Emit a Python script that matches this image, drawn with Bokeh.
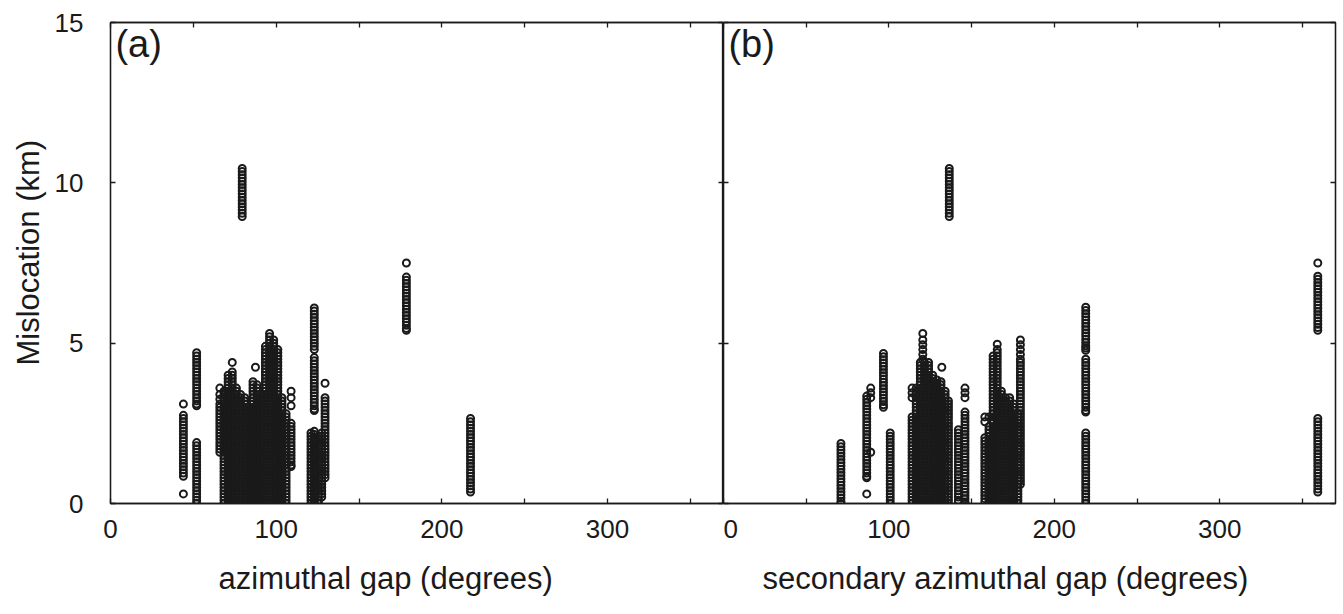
from bokeh.plotting import figure
from bokeh.models import Range1d, FixedTicker, LinearAxis, Label, Title, ColumnDataSource
from bokeh.layouts import row
from bokeh.embed import file_html
from bokeh.resources import INLINE

FONT = "Liberation Sans"
INK = "#1a1a1a"

# axis ticks
x_ticks = [0, 50, 100, 150, 200, 250, 300, 350]
x_tick_labels = {50: "", 150: "", 250: "", 350: ""}
y_ticks = [0, 5, 10, 15]

# (a) azimuthal gap (degrees) of each group of events, and their mislocations (km)
gap_a = [44, 52, 66, 68.5, 71, 73.5, 76, 78.5, 79.5, 81, 83.5, 86, 87.5, 88.5, 91, 93.5,
         96, 98.5, 101, 103.5, 106, 109, 121, 123, 125.5, 127.5, 129.5, 178.6, 217.3]
misloc_a = [
    [3.1, 2.75, 2.65, 2.55, 2.45, 2.35, 2.25, 2.15, 2.05, 1.95, 1.85, 1.75, 1.65, 1.55, 1.45,
     1.35, 1.25, 1.15, 1.05, 0.95, 0.85, 0.3],
    [4.7, 4.6, 4.5, 4.4, 4.3, 4.2, 4.1, 4.0, 3.9, 3.8, 3.7, 3.6, 3.5, 3.4, 3.3, 3.2, 3.1, 3.05,
     1.9, 1.8, 1.7, 1.6, 1.5, 1.4, 1.3, 1.2, 1.1, 1.0, 0.9, 0.8, 0.7, 0.6, 0.5, 0.4, 0.3, 0.2,
     0.1, 0.0],
    [3.6, 3.4, 3.25, 3.1, 3.0, 2.9, 2.8, 2.7, 2.6, 2.5, 2.4, 2.3, 2.2, 2.1, 2.0, 1.9, 1.8, 1.7,
     1.6],
    [3.5, 3.4, 3.3, 3.2, 3.1, 3.0, 2.9, 2.8, 2.7, 2.6, 2.5, 2.4, 2.3, 2.2, 2.1, 2.0, 1.9, 1.8,
     1.7, 1.6, 1.5, 1.4, 1.3, 1.2, 1.1, 1.0, 0.9, 0.8, 0.7, 0.6, 0.5, 0.4, 0.3, 0.2, 0.1, 0.0],
    [4.0, 3.9, 3.8, 3.7, 3.6, 3.5, 3.4, 3.3, 3.2, 3.1, 3.0, 2.9, 2.8, 2.7, 2.6, 2.5, 2.4, 2.3,
     2.2, 2.1, 2.0, 1.9, 1.8, 1.7, 1.6, 1.5, 1.4, 1.3, 1.2, 1.1, 1.0, 0.9, 0.8, 0.7, 0.6, 0.5,
     0.4, 0.3, 0.2, 0.1, 0.0],
    [4.4, 4.1, 4.0, 3.9, 3.8, 3.7, 3.6, 3.5, 3.4, 3.3, 3.2, 3.1, 3.0, 2.9, 2.8, 2.7, 2.6, 2.5,
     2.4, 2.3, 2.2, 2.1, 2.0, 1.9, 1.8, 1.7, 1.6, 1.5, 1.4, 1.3, 1.2, 1.1, 1.0, 0.9, 0.8, 0.7,
     0.6, 0.5, 0.4, 0.3, 0.2, 0.1, 0.0],
    [3.6, 3.5, 3.4, 3.3, 3.2, 3.1, 3.0, 2.9, 2.8, 2.7, 2.6, 2.5, 2.4, 2.3, 2.2, 2.1, 2.0, 1.9,
     1.8, 1.7, 1.6, 1.5, 1.4, 1.3, 1.2, 1.1, 1.0, 0.9, 0.8, 0.7, 0.6, 0.5, 0.4, 0.3, 0.2, 0.1,
     0.0],
    [3.4, 3.3, 3.2, 3.1, 3.0, 2.9, 2.8, 2.7, 2.6, 2.5, 2.4, 2.3, 2.2, 2.1, 2.0, 1.9, 1.8, 1.7,
     1.6, 1.5, 1.4, 1.3, 1.2, 1.1, 1.0, 0.9, 0.8, 0.7, 0.6, 0.5, 0.4, 0.3, 0.2, 0.1, 0.0],
    [10.45, 10.35, 10.25, 10.15, 10.05, 9.95, 9.85, 9.75, 9.65, 9.55, 9.45, 9.35, 9.25, 9.15,
     9.05, 8.95],
    [3.3, 3.2, 3.1, 3.0, 2.9, 2.8, 2.7, 2.6, 2.5, 2.4, 2.3, 2.2, 2.1, 2.0, 1.9, 1.8, 1.7, 1.6,
     1.5, 1.4, 1.3, 1.2, 1.1, 1.0, 0.9, 0.8, 0.7, 0.6, 0.5, 0.4, 0.3, 0.2, 0.1, 0.0],
    [3.0, 2.9, 2.8, 2.7, 2.6, 2.5, 2.4, 2.3, 2.2, 2.1, 2.0, 1.9, 1.8, 1.7, 1.6, 1.5, 1.4, 1.3,
     1.2, 1.1, 1.0, 0.9, 0.8, 0.7, 0.6, 0.5, 0.4, 0.3, 0.2, 0.1, 0.0],
    [3.8, 3.7, 3.6, 3.5, 3.4, 3.3, 3.2, 3.1, 3.0, 2.9, 2.8, 2.7, 2.6, 2.5, 2.4, 2.3, 2.2, 2.1,
     2.0, 1.9, 1.8, 1.7, 1.6, 1.5, 1.4, 1.3, 1.2, 1.1, 1.0, 0.9, 0.8, 0.7, 0.6, 0.5, 0.4, 0.3,
     0.2, 0.1, 0.0],
    [4.25],
    [3.7, 3.6, 3.5, 3.4, 3.3, 3.2, 3.1, 3.0, 2.9, 2.8, 2.7, 2.6, 2.5, 2.4, 2.3, 2.2, 2.1, 2.0,
     1.9, 1.8, 1.7, 1.6, 1.5, 1.4, 1.3, 1.2, 1.1, 1.0, 0.9, 0.8, 0.7, 0.6, 0.5, 0.4, 0.3, 0.2,
     0.1, 0.0],
    [3.4, 3.3, 3.2, 3.1, 3.0, 2.9, 2.8, 2.7, 2.6, 2.5, 2.4, 2.3, 2.2, 2.1, 2.0, 1.9, 1.8, 1.7,
     1.6, 1.5, 1.4, 1.3, 1.2, 1.1, 1.0, 0.9, 0.8, 0.7, 0.6, 0.5, 0.4, 0.3, 0.2, 0.1, 0.0],
    [4.9, 4.8, 4.7, 4.6, 4.5, 4.4, 4.3, 4.2, 4.1, 4.0, 3.9, 3.8, 3.7, 3.6, 3.5, 3.4, 3.3, 3.2,
     3.1, 3.0, 2.9, 2.8, 2.7, 2.6, 2.5, 2.4, 2.3, 2.2, 2.1, 2.0, 1.9, 1.8, 1.7, 1.6, 1.5, 1.4,
     1.3, 1.2, 1.1, 1.0, 0.9, 0.8, 0.7, 0.6, 0.5, 0.4, 0.3, 0.2, 0.1, 0.0],
    [5.3, 5.2, 5.1, 5.0, 4.9, 4.8, 4.7, 4.6, 4.5, 4.4, 4.3, 4.2, 4.1, 4.0, 3.9, 3.8, 3.7, 3.6,
     3.5, 3.4, 3.3, 3.2, 3.1, 3.0, 2.9, 2.8, 2.7, 2.6, 2.5, 2.4, 2.3, 2.2, 2.1, 2.0, 1.9, 1.8,
     1.7, 1.6, 1.5, 1.4, 1.3, 1.2, 1.1, 1.0, 0.9, 0.8, 0.7, 0.6, 0.5, 0.4, 0.3, 0.2, 0.1, 0.0],
    [5.1, 5.0, 4.9, 4.8, 4.7, 4.6, 4.5, 4.4, 4.3, 4.2, 4.1, 4.0, 3.9, 3.8, 3.7, 3.6, 3.5, 3.4,
     3.3, 3.2, 3.1, 3.0, 2.9, 2.8, 2.7, 2.6, 2.5, 2.4, 2.3, 2.2, 2.1, 2.0, 1.9, 1.8, 1.7, 1.6,
     1.5, 1.4, 1.3, 1.2, 1.1, 1.0, 0.9, 0.8, 0.7, 0.6, 0.5, 0.4, 0.3, 0.2, 0.1, 0.0],
    [4.8, 4.7, 4.6, 4.5, 4.4, 4.3, 4.2, 4.1, 4.0, 3.9, 3.8, 3.7, 3.6, 3.5, 3.4, 3.3, 3.2, 3.1,
     3.0, 2.9, 2.8, 2.7, 2.6, 2.5, 2.4, 2.3, 2.2, 2.1, 2.0, 1.9, 1.8, 1.7, 1.6, 1.5, 1.4, 1.3,
     1.2, 1.1, 1.0, 0.9, 0.8, 0.7, 0.6, 0.5, 0.4, 0.3, 0.2, 0.1, 0.0],
    [3.3, 3.2, 3.1, 3.0, 2.9, 2.8, 2.7, 2.6, 2.5, 2.4, 2.3, 2.2, 2.1, 2.0, 1.9, 1.8, 1.7, 1.6,
     1.5, 1.4, 1.3, 1.2, 1.1, 1.0, 0.9, 0.8, 0.7, 0.6, 0.5, 0.4, 0.3, 0.2, 0.1, 0.0],
    [2.8, 2.7, 2.6, 2.5, 2.4, 2.3, 2.2, 2.1, 2.0, 1.9, 1.8, 1.7, 1.6, 1.5, 1.4, 1.3, 1.2, 1.1,
     1.0, 0.9, 0.8, 0.7, 0.6, 0.5, 0.4, 0.3, 0.2, 0.1, 0.0],
    [3.5, 3.3, 3.05, 2.5, 2.4, 2.3, 2.2, 2.1, 2.0, 1.9, 1.8, 1.7, 1.6, 1.5, 1.4, 1.3, 1.2, 1.15],
    [2.2, 2.1, 2.0, 1.9, 1.8, 1.7, 1.6, 1.5, 1.4, 1.3, 1.2, 1.1, 1.0, 0.9, 0.8, 0.7, 0.6, 0.5,
     0.4, 0.3, 0.2, 0.1, 0.0],
    [6.1, 6.0, 5.9, 5.8, 5.7, 5.6, 5.5, 5.4, 5.3, 5.2, 5.1, 5.0, 4.9, 4.8,
     4.55, 4.45, 4.35, 4.25, 4.15, 4.05, 3.95, 3.85, 3.75, 3.65, 3.55, 3.45, 3.35, 3.25, 3.15,
     3.05, 2.95, 2.9,
     2.25, 2.15, 2.05, 1.95, 1.85, 1.75, 1.65, 1.55, 1.45, 1.35, 1.25, 1.15, 1.05, 0.95, 0.85,
     0.75, 0.65, 0.55, 0.45, 0.35, 0.25, 0.15, 0.05, 0.0],
    [2.1, 2.0, 1.9, 1.8, 1.7, 1.6, 1.5, 1.4, 1.3, 1.2, 1.1, 1.0, 0.9, 0.8, 0.7, 0.6, 0.5, 0.4,
     0.3, 0.2, 0.1, 0.0],
    [2.2, 2.1, 2.0, 1.9, 1.8, 1.7, 1.6, 1.5, 1.4, 1.3, 1.2, 1.1, 1.0, 0.9, 0.8, 0.7, 0.6, 0.5,
     0.4, 0.3, 0.2],
    [3.75, 3.3, 3.2, 3.1, 3.0, 2.9, 2.8, 2.7, 2.6, 2.5, 2.4, 2.3, 2.2, 2.1, 2.0, 1.9, 1.8, 1.7,
     1.6, 1.5, 1.4, 1.3, 1.2, 1.1, 1.0, 0.9, 0.8],
    [7.5, 7.06, 6.96, 6.86, 6.76, 6.66, 6.56, 6.46, 6.36, 6.26, 6.16, 6.06, 5.96, 5.86, 5.76,
     5.66, 5.56, 5.46, 5.4],
    [2.65, 2.55, 2.45, 2.35, 2.25, 2.15, 2.05, 1.95, 1.85, 1.75, 1.65, 1.55, 1.45, 1.35, 1.25,
     1.15, 1.05, 0.95, 0.85, 0.75, 0.65, 0.55, 0.45, 0.36],
]

# (b) secondary azimuthal gap (degrees) of each group of events, and their mislocations (km)
gap_b = [71, 86.6, 89, 96.7, 100.8, 114, 116.5, 119, 120.5, 121.5, 124, 126.5, 129, 131.5,
         132, 134, 136, 136.5, 142, 146, 158, 160.5, 163, 165.5, 168, 170.5, 173, 175.5, 178,
         179.5, 219, 359.3]
misloc_b = [
    [1.87, 1.77, 1.67, 1.57, 1.47, 1.37, 1.27, 1.17, 1.07, 0.97, 0.87, 0.77, 0.67, 0.57, 0.47,
     0.37, 0.27, 0.17, 0.07, 0.0],
    [3.35, 3.25, 3.15, 3.05, 2.95, 2.85, 2.75, 2.65, 2.55, 2.45, 2.35, 2.25, 2.15, 2.05, 1.95,
     1.85, 1.75, 1.65, 1.55, 1.45, 1.35, 1.25, 1.15, 1.05, 0.95, 0.85, 0.8, 0.3],
    [3.6, 3.45, 3.3, 1.6],
    [4.68, 4.58, 4.48, 4.38, 4.28, 4.18, 4.08, 3.98, 3.88, 3.78, 3.68, 3.58, 3.48, 3.38, 3.28,
     3.18, 3.08, 3.0],
    [2.2, 2.1, 2.0, 1.9, 1.8, 1.7, 1.6, 1.5, 1.4, 1.3, 1.2, 1.1, 1.0, 0.9, 0.8, 0.7, 0.6, 0.5,
     0.4, 0.3, 0.2, 0.1, 0.0],
    [3.6, 3.45, 3.3, 2.7, 2.6, 2.5, 2.4, 2.3, 2.2, 2.1, 2.0, 1.9, 1.8, 1.7, 1.6, 1.5, 1.4, 1.3,
     1.2, 1.1, 1.0, 0.9, 0.8, 0.7, 0.6, 0.5, 0.4, 0.3, 0.2, 0.1, 0.0],
    [3.6, 3.5, 3.4, 3.3, 3.2, 3.1, 3.0, 2.9, 2.8, 2.7, 2.6, 2.5, 2.4, 2.3, 2.2, 2.1, 2.0, 1.9,
     1.8, 1.7, 1.6, 1.5, 1.4, 1.3, 1.2, 1.1, 1.0, 0.9, 0.8, 0.7, 0.6, 0.5, 0.4, 0.3, 0.2, 0.1,
     0.0],
    [4.4, 4.3, 4.2, 4.1, 4.0, 3.9, 3.8, 3.7, 3.6, 3.5, 3.4, 3.3, 3.2, 3.1, 3.0, 2.9, 2.8, 2.7,
     2.6, 2.5, 2.4, 2.3, 2.2, 2.1, 2.0, 1.9, 1.8, 1.7, 1.6, 1.5, 1.4, 1.3, 1.2, 1.1, 1.0, 0.9,
     0.8, 0.7, 0.6, 0.5, 0.4, 0.3, 0.2, 0.1, 0.0],
    [5.3, 5.1, 4.95, 4.8, 4.65, 4.5],
    [4.4, 4.3, 4.2, 4.1, 4.0, 3.9, 3.8, 3.7, 3.6, 3.5, 3.4, 3.3, 3.2, 3.1, 3.0, 2.9, 2.8, 2.7,
     2.6, 2.5, 2.4, 2.3, 2.2, 2.1, 2.0, 1.9, 1.8, 1.7, 1.6, 1.5, 1.4, 1.3, 1.2, 1.1, 1.0, 0.9,
     0.8, 0.7, 0.6, 0.5, 0.4, 0.3, 0.2, 0.1, 0.0],
    [4.4, 4.3, 4.2, 4.1, 4.0, 3.9, 3.8, 3.7, 3.6, 3.5, 3.4, 3.3, 3.2, 3.1, 3.0, 2.9, 2.8, 2.7,
     2.6, 2.5, 2.4, 2.3, 2.2, 2.1, 2.0, 1.9, 1.8, 1.7, 1.6, 1.5, 1.4, 1.3, 1.2, 1.1, 1.0, 0.9,
     0.8, 0.7, 0.6, 0.5, 0.4, 0.3, 0.2, 0.1, 0.0],
    [4.0, 3.9, 3.8, 3.7, 3.6, 3.5, 3.4, 3.3, 3.2, 3.1, 3.0, 2.9, 2.8, 2.7, 2.6, 2.5, 2.4, 2.3,
     2.2, 2.1, 2.0, 1.9, 1.8, 1.7, 1.6, 1.5, 1.4, 1.3, 1.2, 1.1, 1.0, 0.9, 0.8, 0.7, 0.6, 0.5,
     0.4, 0.3, 0.2, 0.1, 0.0],
    [3.85, 3.75, 3.65, 3.55, 3.45, 3.35, 3.25, 3.15, 3.05, 2.95, 2.85, 2.75, 2.65, 2.55, 2.45,
     2.35, 2.25, 2.15, 2.05, 1.95, 1.85, 1.75, 1.65, 1.55, 1.45, 1.35, 1.25, 1.15, 1.05, 0.95,
     0.85, 0.75, 0.65, 0.55, 0.45, 0.35, 0.25, 0.15, 0.05, 0.0],
    [3.8, 3.7, 3.6, 3.5, 3.4, 3.3, 3.2, 3.1, 3.0, 2.9, 2.8, 2.7, 2.6, 2.5, 2.4, 2.3, 2.2, 2.1,
     2.0, 1.9, 1.8, 1.7, 1.6, 1.5, 1.4, 1.3, 1.2, 1.1, 1.0, 0.9, 0.8, 0.7, 0.6, 0.5, 0.4, 0.3,
     0.2, 0.1, 0.0],
    [4.25],
    [3.5, 3.4, 3.3, 3.2, 3.1, 3.0, 2.9, 2.8, 2.7, 2.6, 2.5, 2.4, 2.3, 2.2, 2.1, 2.0, 1.9, 1.8,
     1.7, 1.6, 1.5, 1.4, 1.3, 1.2, 1.1, 1.0, 0.9, 0.8, 0.7, 0.6, 0.5, 0.4, 0.3, 0.2, 0.1, 0.0],
    [3.2, 3.1, 3.0, 2.9, 2.8, 2.7, 2.6, 2.5, 2.4, 2.3, 2.2, 2.1, 2.0, 1.9, 1.8, 1.7, 1.6, 1.5,
     1.4, 1.3, 1.2, 1.1, 1.0, 0.9, 0.8, 0.7, 0.6, 0.5, 0.4, 0.3, 0.2, 0.1, 0.0],
    [10.45, 10.35, 10.25, 10.15, 10.05, 9.95, 9.85, 9.75, 9.65, 9.55, 9.45, 9.35, 9.25, 9.15,
     9.05, 8.95],
    [2.3, 2.2, 2.1, 2.0, 1.9, 1.8, 1.7, 1.6, 1.5, 1.4, 1.3, 1.2, 1.1, 1.0, 0.9, 0.8, 0.7, 0.6,
     0.5, 0.4, 0.3, 0.2, 0.1, 0.05],
    [3.6, 3.45, 3.3, 2.85, 2.75, 2.65, 2.55, 2.45, 2.35, 2.25, 2.15, 2.05, 1.95, 1.85, 1.75,
     1.65, 1.55, 1.45, 1.35, 1.25, 1.15, 1.05, 0.95, 0.85, 0.75, 0.65, 0.55, 0.45, 0.35, 0.25,
     0.15, 0.05, 0.0],
    [2.7, 2.55, 2.05, 1.95, 1.85, 1.75, 1.65, 1.55, 1.45, 1.35, 1.25, 1.15, 1.05, 0.95, 0.85,
     0.75, 0.65, 0.55, 0.45, 0.35, 0.25, 0.15, 0.05],
    [2.7, 2.4, 2.3, 2.2, 2.1, 2.0, 1.9, 1.8, 1.7, 1.6, 1.5, 1.4, 1.3, 1.2, 1.1, 1.0, 0.9, 0.8,
     0.7, 0.6, 0.5, 0.4, 0.3, 0.2, 0.1, 0.0],
    [4.6, 4.5, 4.4, 4.3, 4.2, 4.1, 4.0, 3.9, 3.8, 3.7, 3.6, 3.5, 3.4, 3.3, 3.2, 3.1, 3.0, 2.9,
     2.8, 2.7, 2.6, 2.5, 2.4, 2.3, 2.2, 2.1, 2.0, 1.9, 1.8, 1.7, 1.6, 1.5, 1.4, 1.3, 1.2, 1.1,
     1.0, 0.9, 0.8, 0.7, 0.6, 0.5, 0.4, 0.3, 0.2, 0.1, 0.0],
    [4.97, 4.8, 4.7, 4.6, 4.5, 4.4, 4.3, 4.2, 4.1, 4.0, 3.9, 3.8, 3.7, 3.6, 3.5, 3.4, 3.3, 3.2,
     3.1, 3.0, 2.9, 2.8, 2.7, 2.6, 2.5, 2.4, 2.3, 2.2, 2.1, 2.0, 1.9, 1.8, 1.7, 1.6, 1.5, 1.4,
     1.3, 1.2, 1.1, 1.0, 0.9, 0.8, 0.7, 0.6, 0.5, 0.4, 0.3, 0.2, 0.1, 0.0],
    [3.5, 3.4, 3.3, 3.2, 3.1, 3.0, 2.9, 2.8, 2.7, 2.6, 2.5, 2.4, 2.3, 2.2, 2.1, 2.0, 1.9, 1.8,
     1.7, 1.6, 1.5, 1.4, 1.3, 1.2, 1.1, 1.0, 0.9, 0.8, 0.7, 0.6, 0.5, 0.4, 0.3, 0.2, 0.1, 0.0],
    [3.3, 3.2, 3.1, 3.0, 2.9, 2.8, 2.7, 2.6, 2.5, 2.4, 2.3, 2.2, 2.1, 2.0, 1.9, 1.8, 1.7, 1.6,
     1.5, 1.4, 1.3, 1.2, 1.1, 1.0, 0.9, 0.8, 0.7, 0.6, 0.5, 0.4, 0.3, 0.2, 0.1, 0.0],
    [3.3, 3.2, 3.1, 3.0, 2.9, 2.8, 2.7, 2.6, 2.5, 2.4, 2.3, 2.2, 2.1, 2.0, 1.9, 1.8, 1.7, 1.6,
     1.5, 1.4, 1.3, 1.2, 1.1, 1.0, 0.9, 0.8, 0.7, 0.6, 0.5, 0.4, 0.3, 0.2, 0.1, 0.0],
    [3.1, 3.0, 2.9, 2.8, 2.7, 2.6, 2.5, 2.4, 2.3, 2.2, 2.1, 2.0, 1.9, 1.8, 1.7, 1.6, 1.5, 1.4,
     1.3, 1.2, 1.1, 1.0, 0.9, 0.8, 0.7, 0.6, 0.5, 0.4, 0.3, 0.2, 0.1, 0.0],
    [2.8, 2.7, 2.6, 2.5, 2.4, 2.3, 2.2, 2.1, 2.0, 1.9, 1.8, 1.7, 1.6, 1.5, 1.4, 1.3, 1.2, 1.1,
     1.0, 0.9, 0.8, 0.7, 0.6, 0.5, 0.4, 0.3, 0.2, 0.1, 0.0],
    [5.1, 4.95, 4.8, 4.65, 4.5, 4.4, 4.3, 4.2, 4.1, 4.0, 3.9, 3.8, 3.7, 3.6, 3.5, 3.4, 3.3, 3.2,
     3.1, 3.0, 2.9, 2.8, 2.7, 2.6, 2.5, 2.4, 2.3, 2.2, 2.1, 2.0, 1.9, 1.8, 1.7, 1.6, 1.5, 1.4,
     1.3, 1.2, 1.1, 1.0, 0.9, 0.8, 0.7, 0.6],
    [6.12, 6.02, 5.92, 5.82, 5.72, 5.62, 5.52, 5.42, 5.32, 5.22, 5.12, 5.02, 4.92, 4.85, 4.78,
     4.5, 4.4, 4.3, 4.2, 4.1, 4.0, 3.9, 3.8, 3.7, 3.6, 3.5, 3.4, 3.3, 3.2, 3.1, 3.0, 2.9, 2.85,
     2.2, 2.1, 2.0, 1.9, 1.8, 1.7, 1.6, 1.5, 1.4, 1.3, 1.2, 1.1, 1.0, 0.9, 0.8, 0.7, 0.6, 0.5,
     0.4, 0.3, 0.2, 0.1, 0.0],
    [7.5, 7.09, 6.99, 6.89, 6.79, 6.69, 6.59, 6.49, 6.39, 6.29, 6.19, 6.09, 5.99, 5.89, 5.79,
     5.69, 5.59, 5.49, 5.4,
     2.65, 2.55, 2.45, 2.35, 2.25, 2.15, 2.05, 1.95, 1.85, 1.75, 1.65, 1.55, 1.45, 1.35, 1.25,
     1.15, 1.05, 0.95, 0.85, 0.75, 0.65, 0.55, 0.45, 0.36],
]


def to_source(gaps, groups):
    xs, ys = [], []
    for g, vals in zip(gaps, groups):
        xs.extend([g] * len(vals))
        ys.extend(vals)
    return ColumnDataSource(data=dict(gap=xs, misloc=ys))


def style_axis(ax, ticks, show_labels, overrides=None):
    ax.ticker = FixedTicker(ticks=ticks)
    ax.major_tick_in = 5
    ax.major_tick_out = 0
    ax.minor_tick_in = 0
    ax.minor_tick_out = 0
    ax.axis_line_color = INK
    ax.axis_line_width = 1.3
    ax.major_tick_line_color = INK
    ax.major_tick_line_width = 1.3
    if show_labels:
        ax.major_label_text_font = FONT
        ax.major_label_text_font_size = "26px"
        ax.major_label_text_color = INK
        if overrides:
            ax.major_label_overrides = overrides
    else:
        ax.major_label_text_font_size = "0px"
        ax.major_label_standoff = 0
        ax.major_label_overrides = {t: "" for t in ticks}


def axis_title(text, offset, standoff):
    return Title(text=text, align="left", offset=offset, standoff=standoff,
                 text_font=FONT, text_font_size="31px", text_font_style="normal",
                 text_color=INK)


def panel(gaps, groups, xlabel, xlabel_offset, tag, with_ylabels, width,
          border_left, border_right):
    p = figure(width=width, height=614,
               x_range=Range1d(0, 370), y_range=Range1d(0, 15),
               x_axis_location=None, y_axis_location=None,
               output_backend="svg", toolbar_location=None,
               min_border_left=border_left, min_border_right=border_right,
               min_border_top=22, min_border_bottom=111)
    p.background_fill_color = "white"
    p.border_fill_color = "white"
    p.outline_line_color = INK
    p.outline_line_width = 1.3
    p.grid.visible = False

    bottom = LinearAxis()
    style_axis(bottom, x_ticks, True, x_tick_labels)
    bottom.major_label_standoff = 16
    p.add_layout(bottom, "below")
    p.add_layout(axis_title(xlabel, xlabel_offset, 36), "below")

    top = LinearAxis()
    style_axis(top, x_ticks, False)
    p.add_layout(top, "above")

    left = LinearAxis()
    style_axis(left, y_ticks, with_ylabels)
    if with_ylabels:
        left.major_label_standoff = 27
    p.add_layout(left, "left")
    if with_ylabels:
        p.add_layout(axis_title("Mislocation (km)", 138, 12), "left")

    right = LinearAxis()
    style_axis(right, y_ticks, False)
    p.add_layout(right, "right")

    p.scatter("gap", "misloc", source=to_source(gaps, groups), marker="circle",
              size=7.0, fill_color=None, line_color=INK, line_width=2.0)

    p.add_layout(Label(x=3, y=15, text=tag, text_baseline="top", text_align="left",
                       text_font=FONT, text_font_size="38px", text_color=INK))
    return p


pa = panel(gap_a, misloc_a, "azimuthal gap (degrees)", 108, "(a)", True, 723, 110, 0)
pb = panel(gap_b, misloc_b, "secondary azimuthal gap (degrees)", 39, "(b)", False,
           620, 0, 8)

layout = row(pa, pb)
open("out.html", "w").write(file_html(layout, INLINE))
